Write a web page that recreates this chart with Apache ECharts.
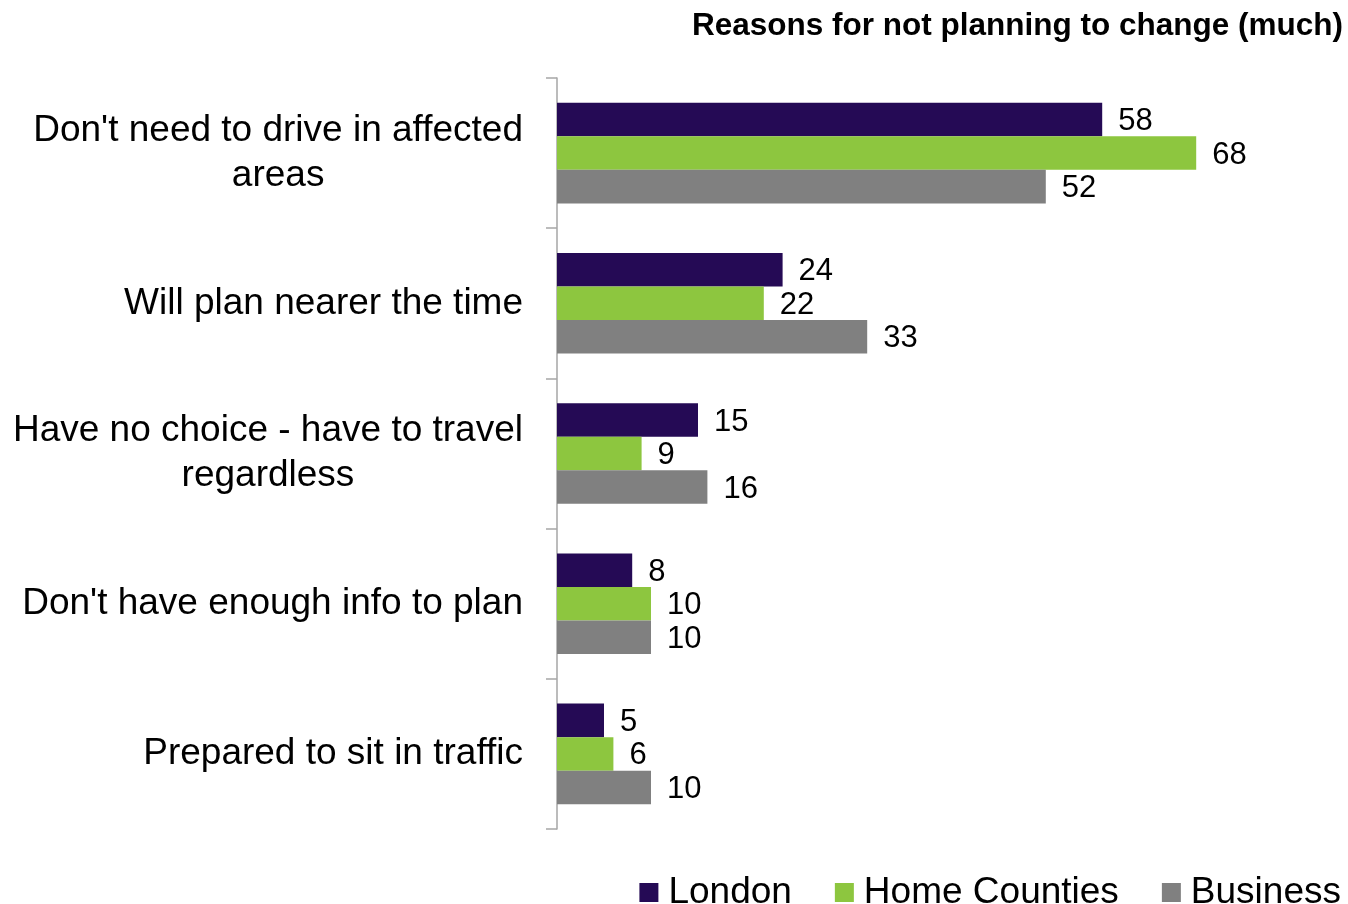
<!DOCTYPE html>
<html>
<head>
<meta charset="utf-8">
<script src="https://cdn.jsdelivr.net/npm/echarts@6/dist/echarts.min.js"></script>
<style>
  html, body { margin: 0; padding: 0; background: #fff; }
  #main { width: 1348px; height: 904px; }
</style>
</head>
<body>
<div id="main"></div>
<script>
const categories = [
  "Don't need to drive in affected\nareas",
  'Will plan nearer the time',
  'Have no choice - have to travel\nregardless',
  "Don't have enough info to plan",
  'Prepared to sit in traffic'
]
const london = [58, 24, 15, 8, 5]
const homeCounties = [68, 22, 9, 10, 6]
const business = [52, 33, 16, 10, 10]

const font = 'Liberation Sans, Arial, sans-serif'

function barSeries(name, data, color) {
  return {
    name: name,
    type: 'bar',
    data: data,
    barGap: '0%',
    barCategoryGap: '33%',
    itemStyle: { color: color },
    label: {
      show: true,
      position: 'right',
      distance: 16,
      offset: [0, 2],
      color: '#000',
      fontFamily: font,
      fontSize: 31
    }
  }
}

const chart = echarts.init(document.getElementById('main'))
chart.setOption({
  animation: false,
  title: {
    text: 'Reasons for not planning to change (much)',
    right: 0,
    top: 5,
    textStyle: { fontFamily: font, fontSize: 31.5, fontWeight: 'bold', color: '#000' }
  },
  legend: {
    right: 2,
    top: 869,
    icon: 'rect',
    itemWidth: 19,
    itemHeight: 19,
    itemGap: 43,
    textStyle: { fontFamily: font, fontSize: 37, color: '#000', padding: [0, 0, 0, 5] }
  },
  grid: { left: 557, top: 78, bottom: 75, right: 39, containLabel: false },
  xAxis: {
    type: 'value',
    min: 0,
    max: 80,
    show: false
  },
  yAxis: {
    type: 'category',
    data: categories,
    inverse: true,
    axisLine: { show: true, lineStyle: { color: '#A6A6A6', width: 1.5 } },
    axisTick: { show: true, length: 11, lineStyle: { color: '#A6A6A6', width: 1.5 } },
    axisLabel: {
      margin: 34,
      color: '#000',
      fontFamily: font,
      fontSize: 37,
      lineHeight: 45,
      formatter: function (v) {
        return v.split('\n').map(function (s) { return '{c|' + s + '}' }).join('\n')
      },
      rich: {
        c: { align: 'center', fontFamily: font, fontSize: 37, lineHeight: 45, color: '#000' }
      }
    }
  },
  series: [
    barSeries('London', london, '#250A55'),
    barSeries('Home Counties', homeCounties, '#8DC63F'),
    barSeries('Business', business, '#808080')
  ]
})
</script>
</body>
</html>
